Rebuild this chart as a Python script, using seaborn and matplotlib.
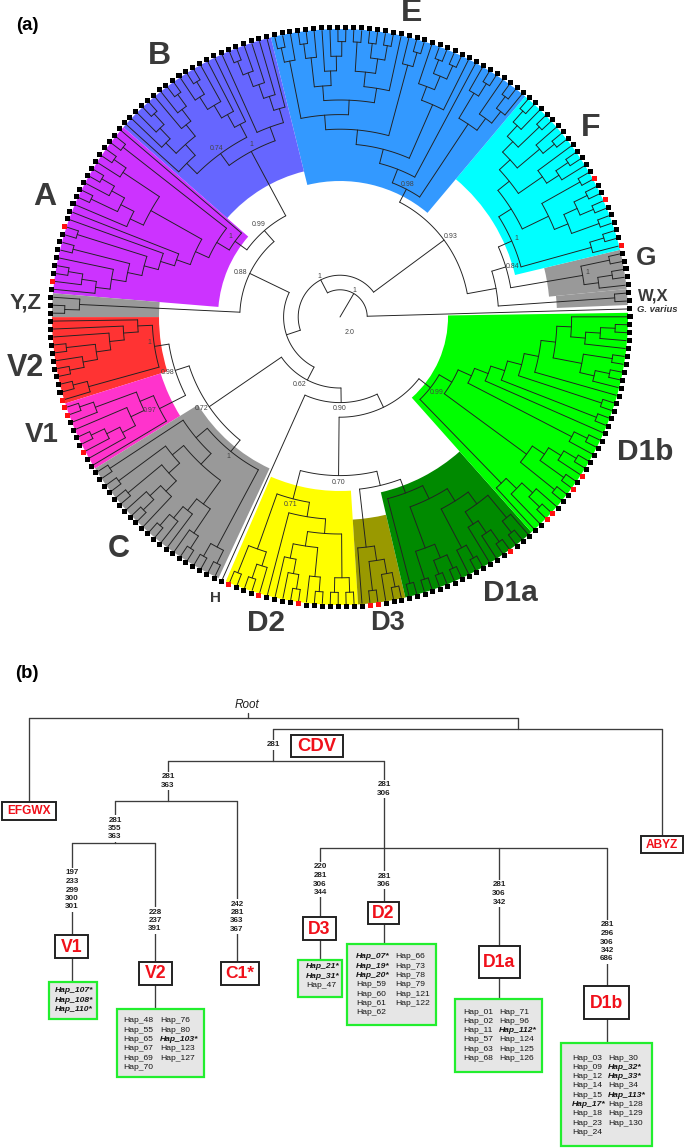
import numpy as np
import pandas as pd
import matplotlib
matplotlib.use('Agg')
import matplotlib.pyplot as plt
from matplotlib.patches import Rectangle
import seaborn as sns

sns.set_theme(style='white')
plt.rcParams['font.family'] = ['Liberation Sans', 'DejaVu Sans']

# ---- panel (a): tree topology, 0 = leaf, P = two leaves on a node
P = [0, 0]
WX = P
G = [[0, P], P]
F = [[0, P], [[[P, [P, P]], P], [[[0, P], 0], [[P, 0], [P, [0, P]]]]]]
E = [[[[0, P], 0], [P, 0]],
     [0, [[0, [[P, P], 0]],
          [[P, 0], [[[0, [[P, P], P]], [[[P, 0], 0], [0, P]]], [0, P]]]]]]
B = [[[0, [0, [0, [0, P]]]], 0],
     [[0, [0, [0, [P, 0]]]], [[[[P, 0], 0], [[P, 0], 0]], 0]]]
A = [0, [P, [[[P, 0], [[[P, 0], P], 0]],
             [0, [0, [P, [P, [0, [[P, 0], 0]]]]]]]]]
YZ = [0, P]
V2 = [[0, [0, [0, [P, [0, P]]]]], [P, 0]]
V1 = [[[P, 0], [0, [[P, 0], 0]]], 0]
C = [[P, [[P, [P, [[0, P], 0]]], [[[P, 0], 0], [0, P]]]], [P, P]]
H = 0
D2 = [[P, [P, 0]], [0, [[[0, [0, P]], [0, P]], [P, P]]]]
D3 = [0, [P, [0, P]]]
D1a = [P, [[P, [P, P]], [[0, P], [[0, [0, P]], [P, 0]]]]]
D1b = [[0, [0, [P, 0]]],
       [[P, [P, [0, P]]],
        [[0, P], [0, [P, [P, [0, [[[0, P], P], [[0, [0, P]], 0]]]]]]]]]
tree = [0, [[[WX, [G, F]], E],
            [[[B, A], YZ], [[[V2, V1], C], [H, [[D2, [D3, D1a]], D1b]]]]]]

# clades in leaf order, counter-clockwise from G. varius
clade_names = ['varius', 'WX', 'G', 'F', 'E', 'B', 'A', 'YZ', 'V2', 'V1', 'C', 'H', 'D2', 'D3', 'D1a', 'D1b']
clade_trees = [0, WX, G, F, E, B, A, YZ, V2, V1, C, H, D2, D3, D1a, D1b]
clade_inner = [None, 217, 210, 180, 136, 150, 122, 181, 181, 188, 167, None, 174, 203, 180, 108]
clade_colors = [None, '#999999', '#999999', '#00ffff', '#3399ff', '#6666ff', '#cc33ff', '#999999',
                '#ff3333', '#ff33cc', '#999999', None, '#ffff00', '#999900', '#008a00', '#00ff00']
red_leaves = [8, 14, 17, 101, 108, 123, 124, 125, 130, 155, 159, 164, 173, 174, 192, 198, 199, 203, 205]

big_labels = [('A', 45, 197, 23), ('B', 159, 56, 23), ('E', 412, 13, 23), ('F', 591, 128, 23), ('G', 646, 258, 19),
              ('W,X', 653, 296, 12), ('Y,Z', 26, 303, 16), ('V2', 25, 368, 22), ('V1', 42, 435, 20), ('C', 119, 549, 22),
              ('H', 216, 598, 11), ('D2', 266, 623, 21.5), ('D3', 388, 623, 19.5), ('D1a', 510, 593, 21.5),
              ('D1b', 645, 452, 21.5)]
support_labels = [('0.74', 217, 148), ('1', 251, 145), ('0.99', 259, 224), ('1', 230, 237), ('0.88', 241, 272),
                  ('1', 319, 276), ('1', 354, 291), ('0.93', 451, 237), ('0.98', 408, 184), ('1', 516, 239),
                  ('0.84', 513, 267), ('1', 587, 273), ('2.0', 350, 333), ('1', 149, 343), ('0.98', 168, 372),
                  ('0.97', 150, 411), ('0.72', 202, 409), ('1', 228, 456), ('0.62', 300, 384), ('0.90', 340, 408),
                  ('0.70', 339, 482), ('0.71', 291, 505), ('0.99', 437, 393)]

# ---- panel (b)
tree_segments = [(29, 718, 518, 718), (248, 713, 248, 718), (518, 718, 518, 729), (273, 729, 662, 729),
                 (29, 718, 29, 802), (662, 729, 662, 836), (273, 729, 273, 761), (168, 761, 384, 761),
                 (168, 761, 168, 801), (115, 801, 237, 801), (115, 801, 115, 843), (72, 843, 155, 843),
                 (72, 843, 72, 982), (155, 843, 155, 1009), (237, 801, 237, 962),
                 (384, 761, 384, 944), (320, 848, 607, 848), (320, 848, 320, 960), (499, 848, 499, 999),
                 (607, 848, 607, 1043)]
mutation_labels = [(273, 745, ['281']), (168, 777, ['281', '363']), (115, 820, ['281', '355', '363']),
                   (72, 873, ['197', '233', '299', '300', '301']), (155, 912, ['228', '237', '391']),
                   (237, 904, ['242', '281', '363', '367']), (384, 785, ['281', '306']), (384, 876, ['281', '306']),
                   (320, 867, ['220', '281', '306', '344']), (499, 885, ['281', '306', '342']),
                   (607, 925, ['281', '296', '306', '342', '686'])]
clade_boxes = [('EFGWX', 2, 802, 56, 820, 8.6), ('ABYZ', 641, 836, 683, 853, 8.6), ('CDV', 291, 735, 343, 757, 13.3),
               ('V1', 55, 935, 88, 958, 12.7), ('V2', 139, 962, 172, 985, 12.7), ('C1*', 221, 962, 259, 985, 12.5),
               ('D3', 303, 917, 336, 940, 12.7), ('D2', 368, 902, 399, 924, 12.7), ('D1a', 479, 946, 520, 978, 12.7),
               ('D1b', 584, 986, 629, 1019, 12.7)]
v1_haps = ['Hap_107*', 'Hap_108*', 'Hap_110*']
v2_haps_a = ['Hap_48', 'Hap_55', 'Hap_65', 'Hap_67', 'Hap_69', 'Hap_70']
v2_haps_b = ['Hap_76', 'Hap_80', 'Hap_103*', 'Hap_123', 'Hap_127']
d3_haps = ['Hap_21*', 'Hap_31*', 'Hap_47']
d2_haps_a = ['Hap_07*', 'Hap_19*', 'Hap_20*', 'Hap_59', 'Hap_60', 'Hap_61', 'Hap_62']
d2_haps_b = ['Hap_66', 'Hap_73', 'Hap_78', 'Hap_79', 'Hap_121', 'Hap_122']
d1a_haps_a = ['Hap_01', 'Hap_02', 'Hap_11', 'Hap_57', 'Hap_63', 'Hap_68']
d1a_haps_b = ['Hap_71', 'Hap_96', 'Hap_112*', 'Hap_124', 'Hap_125', 'Hap_126']
d1b_haps_a = ['Hap_03', 'Hap_09', 'Hap_12', 'Hap_14', 'Hap_15', 'Hap_17*', 'Hap_18', 'Hap_23', 'Hap_24']
d1b_haps_b = ['Hap_30', 'Hap_32*', 'Hap_33*', 'Hap_34', 'Hap_113*', 'Hap_128', 'Hap_129', 'Hap_130']
hap_boxes = [((49, 982, 97, 1019), [(55, v1_haps)], 991), ((117, 1009, 204, 1077), [(123, v2_haps_a), (160, v2_haps_b)], 1021),
             ((298, 960, 342, 997), [(306, d3_haps)], 967), ((347, 944, 436, 1025), [(356, d2_haps_a), (395, d2_haps_b)], 957),
             ((455, 999, 542, 1072), [(463, d1a_haps_a), (499, d1a_haps_b)], 1012),
             ((561, 1043, 652, 1146), [(572, d1b_haps_a), (608, d1b_haps_b)], 1058)]

W, HT = 685, 1148
CX, CY, RMAX = 340, 317, 300
LEAF_R = 290
STEP = 14.6
TIP_R = 287
FIRST_ANGLE = 1.6
DANGLE = 1.586


def count_leaves(node):
    if node == 0:
        return 1
    return sum(count_leaves(c) for c in node)


def leaf_theta(i):
    return np.radians(FIRST_ANGLE + DANGLE * i)


branches = []
leaf_counter = [0]
seg_counter = [0]


def add_segment(thetas, radii):
    for t, r in zip(thetas, radii):
        branches.append({'branch': seg_counter[0], 'theta': t, 'r': r})
    seg_counter[0] += 1


def walk(node):
    # leaves take the next angle, an inner node sits half way between its outer children
    if node == 0:
        t = leaf_theta(leaf_counter[0])
        leaf_counter[0] += 1
        return t, 0
    kids = [walk(c) for c in node]
    h = 1 + max(k[1] for k in kids)
    r = LEAF_R - STEP * h
    t0, t1 = kids[0][0], kids[-1][0]
    n = max(2, int(np.degrees(t1 - t0)) + 2)
    add_segment(np.linspace(t0, t1, n), [r] * n)
    for kt, kh in kids:
        kr = TIP_R if kh == 0 else LEAF_R - STEP * kh
        add_segment([kt, kt], [r, kr])
    return (t0 + t1) / 2, h


fig = plt.figure(figsize=(W / 100, HT / 100), dpi=100, facecolor='white')
ax = fig.add_axes([(CX - RMAX) / W, (HT - CY - RMAX) / HT, 2 * RMAX / W, 2 * RMAX / HT], projection='polar')

# coloured clade fans
start = 0
for name, t, inner, col in zip(clade_names, clade_trees, clade_inner, clade_colors):
    n = count_leaves(t)
    if col is not None:
        a0 = leaf_theta(start) - np.radians(DANGLE / 2)
        a1 = leaf_theta(start + n - 1) + np.radians(DANGLE / 2)
        ax.bar((a0 + a1) / 2, 288 - inner, width=a1 - a0, bottom=inner, color=col, linewidth=0, zorder=1)
    start += n

root_t, root_h = walk(tree)
add_segment([root_t, root_t], [0, LEAF_R - STEP * root_h])
branch_df = pd.DataFrame(branches)
sns.lineplot(data=branch_df, x='theta', y='r', units='branch', estimator=None, sort=False,
             color='#222222', linewidth=0.68, ax=ax, zorder=3)

n_leaves = count_leaves(tree)
leaf_df = pd.DataFrame({'theta': [leaf_theta(i) for i in range(n_leaves)],
                        'r': [LEAF_R] * n_leaves,
                        'state': ['red' if i in red_leaves else 'black' for i in range(n_leaves)]})
sns.scatterplot(data=leaf_df, x='theta', y='r', hue='state', palette={'red': '#ff1010', 'black': '#000000'},
                marker='s', s=13, linewidth=0, legend=False, ax=ax, zorder=4)
ax.set_ylim(0, RMAX)
ax.set_axis_off()

# overlay in picture coordinates
ov = fig.add_axes([0, 0, 1, 1])
ov.set_xlim(0, W)
ov.set_ylim(HT, 0)
ov.set_axis_off()
ov.patch.set_alpha(0)

for txt, x, y, size in big_labels:
    ov.text(x, y, txt, fontsize=size, fontweight='bold', color='#3a3a3a', ha='center', va='center')
ov.text(657, 309, 'G. varius', fontsize=6.8, fontweight='bold', fontstyle='italic', color='#333333', ha='center', va='center')
for txt, x, y in support_labels:
    ov.text(x, y, txt, fontsize=5, color='#444444', ha='center', va='center')
ov.text(27, 26, '(a)', fontsize=13.3, fontweight='bold', color='black', ha='center', va='center')
ov.text(27, 673, '(b)', fontsize=13.3, fontweight='bold', color='black', ha='center', va='center')

seg_rows = []
for i, (x0, y0, x1, y1) in enumerate(tree_segments):
    seg_rows.append({'seg': i, 'x': x0, 'y': y0})
    seg_rows.append({'seg': i, 'x': x1, 'y': y1})
sns.lineplot(data=pd.DataFrame(seg_rows), x='x', y='y', units='seg', estimator=None, sort=False,
             color='#3c3c3c', linewidth=0.95, ax=ov, zorder=1)
ov.set_xlim(0, W)
ov.set_ylim(HT, 0)
ov.set_axis_off()

ov.text(247, 705, 'Root', fontsize=8.5, fontstyle='italic', color='#222222', ha='center', va='center')

for x, y0, values in mutation_labels:
    for i, val in enumerate(values):
        ov.text(x, y0 + i * 8.5, val, fontsize=5.8, fontweight='bold', color='#222222', ha='center', va='center',
                zorder=3, bbox=dict(facecolor='white', edgecolor='none', pad=1.0))

for txt, x0, y0, x1, y1, size in clade_boxes:
    ov.add_patch(Rectangle((x0, y0), x1 - x0, y1 - y0, facecolor='white', edgecolor='#222222', linewidth=1.4, zorder=4))
    ov.text((x0 + x1) / 2, (y0 + y1) / 2 + 0.5, txt, fontsize=size, fontweight='bold', color='#f0101a', ha='center', va='center', zorder=5)

for (x0, y0, x1, y1), cols, ytop in hap_boxes:
    ov.add_patch(Rectangle((x0, y0), x1 - x0, y1 - y0, facecolor='#e6e6e6', edgecolor='#22ee2e', linewidth=1.6, zorder=4))
    for x, names in cols:
        for i, nm in enumerate(names):
            star = nm.endswith('*')
            ov.text(x, ytop + i * 9.33, nm, fontsize=6.1, color='#161616', ha='left', va='center', zorder=5,
                    fontstyle='italic' if star else 'normal', fontweight='bold' if star else 'normal')

fig.savefig('out.png', dpi=100)
